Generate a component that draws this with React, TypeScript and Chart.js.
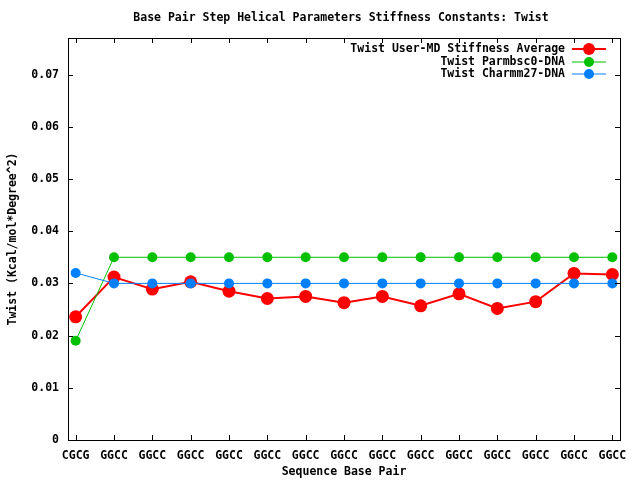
import React, { useEffect, useRef } from "react";
import { Chart, registerables } from "chart.js";

Chart.register(...registerables);

const categories = ["CGCG", "GGCC", "GGCC", "GGCC", "GGCC", "GGCC", "GGCC", "GGCC", "GGCC", "GGCC", "GGCC", "GGCC", "GGCC", "GGCC", "GGCC"];
const userMD = [0.0236, 0.0312, 0.0289, 0.0303, 0.0285, 0.0271, 0.0275, 0.0263, 0.0275, 0.0257, 0.0280, 0.0252, 0.0265, 0.0319, 0.0317];
const parmbsc0 = [0.019, 0.035, 0.035, 0.035, 0.035, 0.035, 0.035, 0.035, 0.035, 0.035, 0.035, 0.035, 0.035, 0.035, 0.035];
const charmm27 = [0.032, 0.030, 0.030, 0.030, 0.030, 0.030, 0.030, 0.030, 0.030, 0.030, 0.030, 0.030, 0.030, 0.030, 0.030];
const yTicks = [0, 0.01, 0.02, 0.03, 0.04, 0.05, 0.06, 0.07];
const seriesNames = ["Twist User-MD Stiffness Average", "Twist Parmbsc0-DNA", "Twist Charmm27-DNA"];
const colors = ["#ff0000", "#00c000", "#0080ff"];
const titleText = "Base Pair Step Helical Parameters Stiffness Constants: Twist";
const xTitle = "Sequence Base Pair";
const yTitle = "Twist (Kcal/mol*Degree^2)";

const FONT = "'DejaVu Sans Mono', monospace";
const FS = 11.5;

const gnuplotPlugin = {
  id: "gnuplotDecor",
  afterDatasetsDraw(chart: any) {
    const { ctx, chartArea, scales } = chart;
    const { left, right, top, bottom } = chartArea;
    ctx.save();
    ctx.strokeStyle = "#000";
    ctx.lineWidth = 1;
    // inward ticks
    ctx.beginPath();
    const tl = 5;
    yTicks.forEach((v) => {
      const y = Math.round(scales.y.getPixelForValue(v)) + 0.5;
      ctx.moveTo(left, y);
      ctx.lineTo(left + tl, y);
      ctx.moveTo(right, y);
      ctx.lineTo(right - tl, y);
    });
    categories.forEach((_, i) => {
      const x = Math.round(scales.x.getPixelForValue(i)) + 0.5;
      ctx.moveTo(x, bottom);
      ctx.lineTo(x, bottom - tl);
      ctx.moveTo(x, top);
      ctx.lineTo(x, top + tl);
    });
    ctx.stroke();
    // border
    ctx.strokeRect(Math.round(left) + 0.5, Math.round(top) + 0.5, Math.round(right - left), Math.round(bottom - top));
    // title
    ctx.fillStyle = "#000";
    ctx.font = `bold ${FS}px ${FONT}`;
    ctx.textAlign = "center";
    ctx.textBaseline = "middle";
    ctx.fillText(titleText, 341, 18);
    // legend
    const rows = [49, 62, 74];
    const widths = [2, 1, 1];
    const radii = [6, 5, 5];
    seriesNames.forEach((name, i) => {
      const y = rows[i];
      ctx.fillStyle = "#000";
      ctx.textAlign = "right";
      ctx.fillText(name, 565, y);
      ctx.strokeStyle = colors[i];
      ctx.lineWidth = widths[i];
      ctx.beginPath();
      ctx.moveTo(572, y);
      ctx.lineTo(606, y);
      ctx.stroke();
      ctx.fillStyle = colors[i];
      ctx.beginPath();
      ctx.arc(589, y, radii[i], 0, Math.PI * 2);
      ctx.fill();
    });
    ctx.restore();
  },
};

export default function App() {
  const ref = useRef<HTMLCanvasElement>(null);
  useEffect(() => {
    document.body.style.margin = "0";
    const toPts = (arr: number[]) => arr.map((y, i) => ({ x: i, y }));
    const chart = new Chart(ref.current as HTMLCanvasElement, {
      type: "line",
      data: {
        datasets: [
          { label: seriesNames[0], data: toPts(userMD), borderColor: colors[0], backgroundColor: colors[0], borderWidth: 2, pointRadius: 6.5, pointBorderWidth: 0, order: 3 },
          { label: seriesNames[1], data: toPts(parmbsc0), borderColor: colors[1], backgroundColor: colors[1], borderWidth: 1, pointRadius: 5, pointBorderWidth: 0, order: 2 },
          { label: seriesNames[2], data: toPts(charmm27), borderColor: colors[2], backgroundColor: colors[2], borderWidth: 1, pointRadius: 5, pointBorderWidth: 0, order: 1 },
        ],
      },
      options: {
        animation: false,
        responsive: false,
        layout: { padding: { top: 38, right: 20, left: 0, bottom: 0 } },
        plugins: { legend: { display: false }, tooltip: { enabled: false }, title: { display: false } },
        scales: {
          x: {
            type: "linear",
            min: -0.2,
            max: 14.2,
            afterBuildTicks: (s: any) => { s.ticks = categories.map((_, i) => ({ value: i })); },
            afterFit: (s: any) => { s.height = 40; },
            grid: { display: true, drawOnChartArea: false, drawTicks: false },
            border: { display: false },
            ticks: {
              autoSkip: false,
              maxRotation: 0,
              padding: 9,
              color: "#000",
              font: { family: FONT, size: FS, weight: "bold" },
              callback: (v: any) => categories[v] ?? "",
            },
            title: { display: true, text: xTitle, color: "#000", font: { family: FONT, size: FS, weight: "bold" }, padding: { top: 0, bottom: 1 } },
          },
          y: {
            min: 0,
            max: 0.077,
            afterBuildTicks: (s: any) => { s.ticks = yTicks.map((v) => ({ value: v })); },
            afterFit: (s: any) => { s.width = 68; },
            grid: { display: true, drawOnChartArea: false, drawTicks: false },
            border: { display: false },
            ticks: {
              padding: 9,
              color: "#000",
              font: { family: FONT, size: FS, weight: "bold" },
              callback: (v: any) => (v === 0 ? "0" : Number(v).toFixed(2)),
            },
            title: { display: true, text: yTitle, color: "#000", font: { family: FONT, size: FS, weight: "bold" }, padding: { top: 6, bottom: 0 } },
          },
        },
      },
      plugins: [gnuplotPlugin],
    } as any);
    return () => chart.destroy();
  }, []);
  return <canvas ref={ref} width={640} height={480} style={{ display: "block", width: 640, height: 480 }} />;
}
